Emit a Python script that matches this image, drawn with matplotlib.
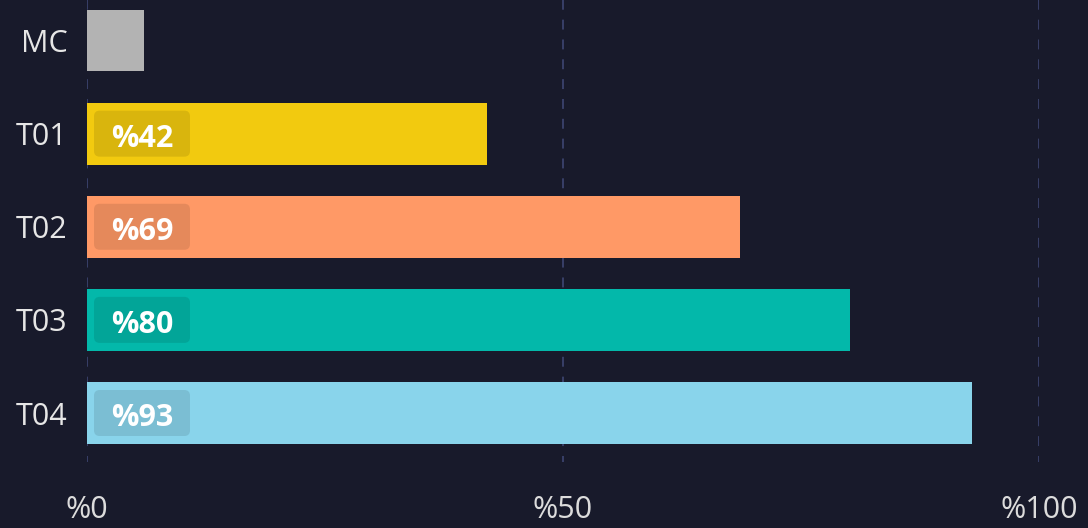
import matplotlib
matplotlib.use("Agg")
import matplotlib.pyplot as plt
from matplotlib.patches import FancyBboxPatch

categories = ["MC", "T01", "T02", "T03", "T04"]
values = [6, 42, 68.6, 80.1, 93]
labels = [None, "%42", "%69", "%80", "%93"]
colors = ["#b3b3b3", "#f2ca0f", "#ff9966", "#03b8aa", "#89d4eb"]
xticks = [0, 50, 100]
xticklabels = ["%0", "%50", "%100"]

bg = "#181a2b"
plt.rcParams['font.family'] = ['Open Sans', 'DejaVu Sans']

fig = plt.figure(figsize=(10.88, 5.28), dpi=100, facecolor=bg)
ax = fig.add_axes([87/1088, (528-462)/528, (1039-87)/1088, 462/528])
ax.set_facecolor(bg)

y = list(range(len(categories)))
ax.barh(y, values, height=0.665, color=colors, zorder=2)

ax.set_xlim(0, 100)
ax.set_ylim(4.526, -0.435)

# labels with rounded boxes
px_x = 952 / 100.0   # px per x unit
px_y = 462 / (4.526 + 0.435)
bw = 96 / px_x
bh = 46 / px_y
x0 = 7 / px_x
for yi, lab in zip(y, labels):
    if lab is None:
        continue
    box = FancyBboxPatch((x0, yi - bh/2), bw, bh,
                         boxstyle="round,pad=0,rounding_size=0.6",
                         mutation_aspect=px_x/px_y,
                         facecolor="black", alpha=0.1, edgecolor="none", zorder=3)
    ax.add_patch(box)
    ax.text(x0 + bw/2, yi + 0.055, lab, ha="center", va="center", color="white",
            fontsize=22, fontweight="bold", zorder=4)

ax.set_yticks(y)
ax.set_yticklabels(categories)
ax.set_xticks(xticks)
ax.set_xticklabels(xticklabels)
ax.tick_params(axis="y", length=0, pad=14, labelsize=22, labelcolor="#e6e6e6")
ax.tick_params(axis="x", length=0, pad=24, labelsize=22, labelcolor="#dcdcdc")

for s in ax.spines.values():
    s.set_visible(False)

ax.xaxis.grid(True, color="#384068", linestyle=(2, (5.1, 5.1)), linewidth=1.4, zorder=1)
ax.set_axisbelow(True)

fig.savefig("out.png", dpi=100, facecolor=bg)
